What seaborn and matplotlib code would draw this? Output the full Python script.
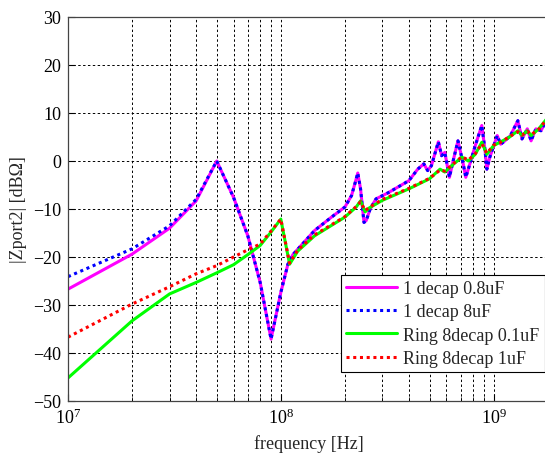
import numpy as np
import pandas as pd
import matplotlib
matplotlib.use("Agg")
import matplotlib.pyplot as plt
import matplotlib.ticker as mticker
import seaborn as sns

# ---------------- data ----------------
f_mag = [1e7, 2e7, 3e7, 4e7, 5e7, 6e7, 7e7, 8e7, 9e7, 1e8, 1.08e8, 1.14e8, 1.44e8, 1.73e8,
         2e8, 2.15e8, 2.24e8, 2.3e8, 2.37e8, 2.46e8, 2.52e8, 2.63e8, 2.8e8, 3.2e8, 4e8,
         4.4e8, 4.7e8, 4.9e8, 5.1e8, 5.5e8, 5.7e8, 5.9e8, 6.2e8, 6.5e8, 6.8e8, 7.2e8,
         7.4e8, 7.7e8, 8.2e8, 8.8e8, 9.1e8, 9.3e8, 9.6e8, 1.04e9, 1.08e9, 1.13e9, 1.2e9,
         1.3e9, 1.36e9, 1.44e9, 1.5e9, 1.58e9, 1.67e9, 1.8e9]
z_mag = [-26.7, -19.4, -14.0, -8.3, 0.0, -7.6, -15.6, -25.3, -37.1, -27.4, -21.5, -19.5, -14.5, -11.7,
         -9.6, -7.2, -4.4, -2.5, -5.8, -12.8, -12.4, -10.0, -7.9, -6.6, -4.1,
         -1.7, -0.6, -2.0, -1.0, 4.0, 1.1, 1.8, -3.4, 0.6, 4.2, -0.6,
         -3.4, -0.9, 3.2, 7.4, 2.5, -1.7, 0.8, 5.3, 3.5, 4.2, 5.3,
         8.4, 4.6, 6.7, 4.2, 6.7, 6.3, 9.1]

f_blue = f_mag
z_blue = [-24.1, -18.3, -13.5, -8.0, 0.0, -7.6, -15.6, -25.3, -37.1, -27.4, -21.5, -19.5, -14.5, -11.7,
          -9.6, -7.2, -4.4, -2.5, -5.8, -12.8, -12.4, -10.0, -7.9, -6.6, -4.1,
          -1.7, -0.6, -2.0, -1.0, 4.0, 1.1, 1.8, -3.4, 0.6, 4.2, -0.6,
          -3.4, -0.9, 3.2, 7.4, 2.5, -1.7, 0.8, 5.3, 3.5, 4.2, 5.3,
          8.4, 4.6, 6.7, 4.2, 6.7, 6.3, 9.1]

f_ring = [1e7, 2e7, 3e7, 4e7, 5e7, 6e7, 7e7, 8e7, 9e7, 1e8, 1.1e8, 1.2e8, 1.44e8, 2e8,
          2.26e8, 2.37e8, 2.49e8, 2.6e8, 3e8, 4e8, 5e8, 5.6e8, 5.9e8, 6.5e8, 7.1e8,
          7.6e8, 8.2e8, 8.8e8, 9.3e8, 1.0e9, 1.07e9, 1.18e9, 1.3e9, 1.36e9, 1.44e9,
          1.5e9, 1.63e9, 1.8e9]
z_ring01 = [-45.2, -33.3, -27.7, -25.3, -23.3, -21.6, -19.5, -17.6, -14.8, -12.1, -21.5, -18.8, -15.6, -11.7,
            -9.6, -8.3, -10.6, -9.8, -8.2, -5.8, -3.7, -1.7, -2.3, -0.6, 0.8,
            0.0, 1.4, 3.9, 1.4, 3.2, 3.9, 4.9, 6.3, 5.3, 6.3,
            5.3, 6.7, 9.1]
z_ring1 = [-36.7, -29.8, -26.2, -23.5, -21.8, -20.0, -18.5, -17.3, -14.6, -12.1, -21.3, -18.6, -15.4, -11.6,
           -9.5, -8.5, -10.3, -9.7, -8.0, -5.7, -3.6, -1.9, -2.1, -0.5, 0.9,
           0.2, 1.5, 3.6, 1.6, 3.3, 3.8, 5.0, 6.1, 5.4, 6.2,
           5.5, 6.6, 9.0]

labels = ["1 decap 0.8uF", "1 decap 8uF", "Ring 8decap 0.1uF", "Ring 8decap 1uF"]

# ---------------- style ----------------
sns.set_style("ticks")
plt.rcParams["font.family"] = ["Liberation Serif", "DejaVu Serif"]
plt.rcParams["mathtext.fontset"] = "custom"
plt.rcParams["mathtext.rm"] = "Liberation Serif"
plt.rcParams["mathtext.it"] = "Liberation Serif:italic"
plt.rcParams["mathtext.bf"] = "Liberation Serif:bold"

fig = plt.figure(figsize=(5.45, 4.56), dpi=100)
ax = fig.add_axes([68 / 545, 1 - 402 / 456, 1 - 68 / 545 + 0.01, (402 - 18) / 456])

dot = (0, (1, 1.2))
sns.lineplot(x=f_mag, y=z_mag, ax=ax, color="#FF00FF", lw=2.2, linestyle="-", label=labels[0], sort=False)
sns.lineplot(x=f_blue, y=z_blue, ax=ax, color="#0000FF", lw=2.2, linestyle=dot, label=labels[1], sort=False)
sns.lineplot(x=f_ring, y=z_ring01, ax=ax, color="#00FF00", lw=2.2, linestyle="-", label=labels[2], sort=False)
sns.lineplot(x=f_ring, y=z_ring1, ax=ax, color="#FF0000", lw=2.2, linestyle=dot, label=labels[3], sort=False)

ax.set_xscale("log")
ax.set_xlim(1e7, 1.85e9)
ax.set_ylim(-50, 30)
ax.set_yticks(np.arange(-50, 31, 10))
ax.xaxis.set_major_locator(mticker.LogLocator(base=10, numticks=10))
ax.xaxis.set_minor_locator(mticker.LogLocator(base=10, subs=np.arange(2, 10), numticks=20))
ax.xaxis.set_minor_formatter(mticker.NullFormatter())

ax.grid(True, which="major", axis="both", color="black", linestyle=(0, (2.5, 2.5)), linewidth=0.7)
ax.grid(True, which="minor", axis="x", color="black", linestyle=(0, (2.5, 2.5)), linewidth=0.7)

ax.tick_params(axis="both", which="both", direction="in", labelsize=13, colors="black")
ax.tick_params(axis="both", which="major", length=5, pad=5)
ax.tick_params(axis="x", which="minor", length=3)
for side in ["left", "bottom", "top"]:
    ax.spines[side].set_color("#444444")
    ax.spines[side].set_linewidth(0.9)
ax.spines["right"].set_visible(False)

ax.set_xlabel("frequency [Hz]", fontsize=13, labelpad=5)
ax.set_ylabel("|Zport2| [dBΩ]", fontsize=13, labelpad=4)

leg = ax.legend(loc="upper left", bbox_to_anchor=(340.7 / 545, 1 - 275.7 / 456),
                bbox_transform=fig.transFigure, fontsize=13, frameon=True, fancybox=False,
                edgecolor="black", framealpha=1, borderpad=0.3, labelspacing=0.35,
                handlelength=2.8, handletextpad=0.35, borderaxespad=0)
leg.get_frame().set_linewidth(0.8)

fig.savefig("out.png", dpi=100)
